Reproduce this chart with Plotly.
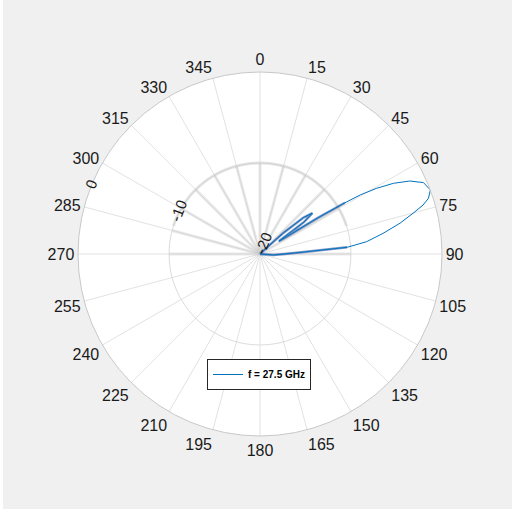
import numpy as np
import plotly.graph_objects as go

# ---- data ----
pattern_theta_deg = [0, 44, 46, 48, 50, 52, 54, 56, 57, 58, 58.9, 59.5, 60.6, 62.1, 64.0,
                     66.4, 69.4, 71.7, 73.3, 75.1, 77.6, 80.5, 83.4, 85.6, 87.2, 90.0,
                     94.0, 96.0, 360]
pattern_db = [-20, -20, -19.5, -16.5, -13.8, -12.7, -14.0, -17.5, -16.5, -12.5, -9.1, -7.2,
              -5.3, -3.4, -1.7, -0.4, 0.0, -0.5, -1.3, -2.6, -4.25, -6.3, -8.2, -10.4,
              -14.9, -17.3, -18.5, -20, -20]
series_name = "f = 27.5 GHz"

angle_ticks = [0, 15, 30, 45, 60, 75, 90, 105, 120, 135, 150, 165,
               180, 195, 210, 225, 240, 255, 270, 285, 300, 315, 330, 345]
angle_labels = [str(a) for a in angle_ticks]
radial_ticks = [-20, -10, 0]
radial_labels = ["-20", "-10", "0"]
radial_range = [-20, 0]

# faint ghost grid seen in the upper half of the reference
ghost_spokes = [-90, -75, -60, -45, -30, -15, 0, 15, 30, 45, 60, 90]
ghost_ring_db = -10
ghost_ring_span = [-72, 72]
caption = "Normalized radiation pattern"

W, H = 512, 511
cx, cy, R = 260, 254, 182

fig = go.Figure()

# ghost spokes
for a in ghost_spokes:
    fig.add_trace(go.Scatterpolar(theta=[a, a], r=[radial_range[0], ghost_ring_db], mode="lines",
                                  line=dict(color="rgba(200,200,200,0.4)", width=3),
                                  showlegend=False, hoverinfo="skip"))
arc_t = np.linspace(ghost_ring_span[0], ghost_ring_span[1], 60)
fig.add_trace(go.Scatterpolar(theta=arc_t, r=[ghost_ring_db] * len(arc_t), mode="lines",
                              line=dict(color="rgba(200,200,200,0.45)", width=3),
                              showlegend=False, hoverinfo="skip"))

# darker blurred inner part of the pattern
fig.add_trace(go.Scatterpolar(theta=pattern_theta_deg,
                              r=[v if v <= -8.9 else None for v in pattern_db],
                              mode="lines", connectgaps=False,
                              line=dict(color="rgba(40,80,160,0.6)", width=2.5),
                              showlegend=False, hoverinfo="skip"))

fig.add_trace(go.Scatterpolar(theta=pattern_theta_deg, r=pattern_db, mode="lines",
                              name=series_name, line=dict(color="#0072BD", width=1)))

fig.update_layout(
    width=W, height=H,
    margin=dict(l=0, r=0, t=0, b=0),
    paper_bgcolor="#f0f0f0",
    polar=dict(
        domain=dict(x=[(cx - R) / W, (cx + R) / W],
                    y=[(H - cy - R) / H, (H - cy + R) / H]),
        bgcolor="white",
        angularaxis=dict(rotation=90, direction="clockwise", tickmode="array",
                         tickvals=angle_ticks, ticktext=angle_labels, ticks="",
                         tickfont=dict(size=16, family="Liberation Sans, Arial", color="#1a1a1a"),
                         showgrid=True, gridcolor="#e2e2e2", gridwidth=1,
                         showline=True, linecolor="#c8c8c8", linewidth=1),
        radialaxis=dict(range=radial_range, tickmode="array", tickvals=radial_ticks,
                        ticktext=radial_labels, angle=159, tickangle=90, showline=False, ticks="",
                        tickfont=dict(size=15, family="Liberation Sans, Arial", color="#1a1a1a"),
                        showgrid=True, gridcolor="#dcdcdc", gridwidth=1),
    ),
    legend=dict(x=207 / W, y=(H - 359) / H, xanchor="left", yanchor="top",
                bgcolor="white", bordercolor="#262626", borderwidth=1,
                font=dict(size=10, family="Liberation Sans, Arial", color="#000000", weight="bold"),
                itemwidth=30, tracegroupgap=0),
    shapes=[
        dict(type="rect", xref="paper", yref="paper", x0=0, x1=3 / W, y0=0, y1=1,
             fillcolor="white", line=dict(width=0), layer="below"),
        dict(type="rect", xref="paper", yref="paper", x0=0, x1=1, y0=0, y1=2 / H,
             fillcolor="white", line=dict(width=0), layer="below"),
    ],
    annotations=[dict(text=caption, xref="paper", yref="paper", x=103 / W, y=2 / H,
                      xanchor="left", yanchor="top", showarrow=False,
                      font=dict(size=27, family="DejaVu Serif, Liberation Serif, serif", color="black"))],
)

fig.write_html("out.html")
